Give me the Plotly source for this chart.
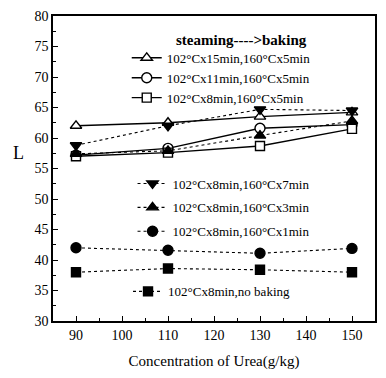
import plotly.graph_objects as go

# Urea concentration (g/kg)
urea = [90, 110, 130, 150]

# Lightness L for each steaming -> baking condition
L_15min_bake5 = [62.0, 62.5, 63.5, 64.2]
L_11min_bake5 = [57.2, 58.3, 61.6, 62.2]
L_8min_bake5 = [57.0, 57.6, 58.7, 61.5]
L_8min_bake7 = [58.8, 62.0, 64.7, 64.5]
L_8min_bake3 = [57.4, 57.9, 60.4, 62.8]
L_8min_bake1 = [42.0, 41.6, 41.1, 41.9]
L_8min_nobake = [38.0, 38.6, 38.4, 38.0]

names = [
    "102°Cx15min,160°Cx5min",
    "102°Cx11min,160°Cx5min",
    "102°Cx8min,160°Cx5min",
    "102°Cx8min,160°Cx7min",
    "102°Cx8min,160°Cx3min",
    "102°Cx8min,160°Cx1min",
    "102°Cx8min,no baking",
]
x_ticks = [90, 100, 110, 120, 130, 140, 150]
y_ticks = [30, 35, 40, 45, 50, 55, 60, 65, 70, 75, 80]

FONT = "Liberation Serif, Times New Roman, serif"

# (values, symbol, fill colour, line dash, legend, marker size)
series = [
    (L_15min_bake5, "triangle-up", "white", "solid", "legend", 10),
    (L_11min_bake5, "circle", "white", "solid", "legend", 10),
    (L_8min_bake5, "square", "white", "solid", "legend", 9),
    (L_8min_bake7, "triangle-down", "black", "dot", "legend2", 10),
    (L_8min_bake3, "triangle-up", "black", "dot", "legend2", 10),
    (L_8min_bake1, "circle", "black", "dot", "legend2", 10),
    (L_8min_nobake, "square", "black", "dot", "legend3", 9),
]

fig = go.Figure()
for i, (vals, sym, fill, dash, leg, size) in enumerate(series):
    fig.add_trace(go.Scatter(
        x=urea, y=vals, name=names[i], mode="lines+markers",
        line=dict(color="black", width=1.4 if dash == "solid" else 1.1, dash=dash),
        marker=dict(symbol=sym, size=size, color=fill,
                    line=dict(color="black", width=1.4)),
        legend=leg, legendgroup=f"g{i}",
    ))

legend_common = dict(
    bgcolor="rgba(0,0,0,0)", borderwidth=0,
    font=dict(family=FONT, size=13, color="black"),
    xanchor="left", yanchor="top", itemclick=False,
)

fig.update_layout(
    width=386, height=378,
    margin=dict(l=53, r=9, t=14, b=57),
    paper_bgcolor="white", plot_bgcolor="white",
    font=dict(family=FONT, size=14, color="black"),
    legend=dict(x=0.229, y=0.912, tracegroupgap=0, **legend_common),
    legend2=dict(x=0.247, y=0.500, tracegroupgap=4, **legend_common),
    legend3=dict(x=0.233, y=0.146, tracegroupgap=0, **legend_common),
    xaxis=dict(
        range=[85, 155], tickvals=x_ticks, ticks="inside", ticklen=5,
        tickcolor="black", showline=True, linecolor="black", linewidth=1.5,
        mirror=True, showgrid=False, zeroline=False,
        minor=dict(dtick=5, ticks="inside", ticklen=3, tickcolor="black"),
        title=dict(text="Concentration of Urea(g/kg)", font=dict(size=15), standoff=14),
        tickfont=dict(size=14),
    ),
    yaxis=dict(
        range=[30, 80], tickvals=y_ticks, ticks="inside", ticklen=5,
        tickcolor="black", showline=True, linecolor="black", linewidth=1.5,
        mirror=True, showgrid=False, zeroline=False,
        minor=dict(dtick=2.5, ticks="inside", ticklen=3, tickcolor="black"),
        tickfont=dict(size=14),
    ),
    annotations=[
        dict(text="L", x=-0.13, y=0.55, xref="paper", yref="paper",
             showarrow=False, font=dict(family=FONT, size=18)),
        dict(text="<b>steaming---->baking</b>", x=0.375, y=0.953, xref="paper",
             yref="paper", xanchor="left", yanchor="top", showarrow=False,
             font=dict(family=FONT, size=15)),
    ],
)

fig.write_html("out.html")
